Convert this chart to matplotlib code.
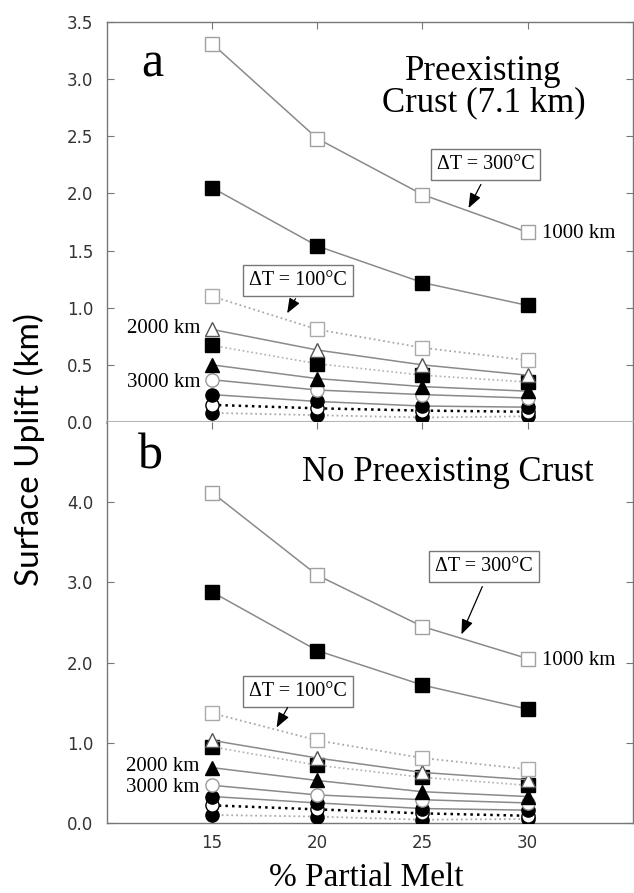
import matplotlib
matplotlib.use("Agg")
import matplotlib.pyplot as plt

melt = [15, 20, 25, 30]

# panel a: preexisting crust (7.1 km)
sq300_a = [3.31, 2.48, 1.99, 1.66]
fsq_a = [2.05, 1.54, 1.22, 1.02]
sq100_a = [1.10, 0.81, 0.65, 0.54]
otri_a = [0.81, 0.63, 0.50, 0.41]
fsqdot_a = [0.67, 0.51, 0.41, 0.35]
ftri_a = [0.50, 0.38, 0.31, 0.27]
ocirc_a = [0.37, 0.28, 0.24, 0.21]
fcirc_a = [0.24, 0.18, 0.14, 0.13]
ocircdot_a = [0.15, 0.12, 0.10, 0.09]
fcircdot_a = [0.08, 0.06, 0.04, 0.05]

# panel b: no preexisting crust
sq300_b = [4.12, 3.09, 2.45, 2.05]
fsq_b = [2.88, 2.15, 1.72, 1.42]
sq100_b = [1.37, 1.03, 0.81, 0.67]
otri_b = [1.03, 0.81, 0.63, 0.54]
fsqdot_b = [0.95, 0.72, 0.57, 0.47]
ftri_b = [0.69, 0.53, 0.39, 0.33]
ocirc_b = [0.47, 0.35, 0.29, 0.25]
fcirc_b = [0.33, 0.25, 0.18, 0.16]
ocircdot_b = [0.22, 0.17, 0.12, 0.09]
fcircdot_b = [0.10, 0.08, 0.04, 0.05]

serif = "Liberation Serif"
sans = "Lato"
ticks_font = "DejaVu Sans"
gray = "#8a8a8a"
ms = 9.5


def draw_series(ax, ys):
    (sq300, fsq, sq100, otri, fsqdot, ftri, ocirc, fcirc, ocircdot, fcircdot) = ys
    ax.plot(melt, fcircdot, ls=":", color="#aaaaaa", lw=1.3, marker="o", ms=ms,
            mfc="black", mec="black", zorder=3)
    ax.plot(melt, ocircdot, ls=":", color="black", lw=1.8, marker="o", ms=ms,
            mfc="white", mec="black", zorder=3)
    ax.plot(melt, fcirc, ls="-", color=gray, lw=1.1, marker="o", ms=ms,
            mfc="black", mec="black", zorder=3)
    ax.plot(melt, ocirc, ls="-", color=gray, lw=1.1, marker="o", ms=ms,
            mfc="white", mec="#999999", zorder=3)
    ax.plot(melt, ftri, ls="-", color=gray, lw=1.1, marker="^", ms=ms + 0.5,
            mfc="black", mec="black", zorder=3)
    ax.plot(melt, fsqdot, ls=":", color="#b0b0b0", lw=1.2, marker="s", ms=ms,
            mfc="black", mec="black", zorder=3)
    ax.plot(melt, otri, ls="-", color=gray, lw=1.1, marker="^", ms=ms + 0.5,
            mfc="white", mec="#555555", zorder=3)
    ax.plot(melt, sq100, ls=":", color="#a8a8a8", lw=1.3, marker="s", ms=ms,
            mfc="white", mec="#aaaaaa", zorder=3)
    ax.plot(melt, fsq, ls="-", color=gray, lw=1.1, marker="s", ms=ms,
            mfc="black", mec="black", zorder=3)
    ax.plot(melt, sq300, ls="-", color=gray, lw=1.1, marker="s", ms=ms,
            mfc="white", mec="#a0a0a0", zorder=3)


def dt_box(ax, label, box_xy, tip_xy, tail_xy):
    ax.text(box_xy[0], box_xy[1], label, fontfamily=serif, fontsize=14.5,
            ha="center", va="center", zorder=5,
            bbox=dict(boxstyle="square,pad=0.3", fc="white", ec="#777777", lw=1.0))
    ax.annotate("", xy=tip_xy, xytext=tail_xy, zorder=5,
                arrowprops=dict(arrowstyle="-|>,head_length=0.9,head_width=0.35",
                                color="black", lw=0.9))


def style_axes(ax):
    ax.set_xlim(10, 35)
    ax.tick_params(direction="in", length=5, color="#777777", top=True, right=True,
                   labelsize=12, labelcolor="#333333", pad=10)
    for lbl in ax.get_yticklabels() + ax.get_xticklabels():
        lbl.set_family(ticks_font)
    for s in ax.spines.values():
        s.set_color("#777777")
        s.set_linewidth(1.0)


fig = plt.figure(figsize=(6.34, 8.93), dpi=100)
ax_a = fig.add_axes([0.1688, 0.5274, 0.8292, 0.448])
ax_b = fig.add_axes([0.1688, 0.0784, 0.8292, 0.449])

draw_series(ax_a, (sq300_a, fsq_a, sq100_a, otri_a, fsqdot_a, ftri_a,
                   ocirc_a, fcirc_a, ocircdot_a, fcircdot_a))
draw_series(ax_b, (sq300_b, fsq_b, sq100_b, otri_b, fsqdot_b, ftri_b,
                   ocirc_b, fcirc_b, ocircdot_b, fcircdot_b))

ax_a.set_ylim(0, 3.5)
ax_a.set_yticks([0, 0.5, 1.0, 1.5, 2.0, 2.5, 3.0, 3.5])
ax_a.set_yticklabels(["0.0", "0.5", "1.0", "1.5", "2.0", "2.5", "3.0", "3.5"])
ax_a.set_xticks(melt)
ax_a.set_xticklabels([])
ax_b.set_ylim(0, 5)
ax_b.set_yticks([0, 1, 2, 3, 4])
ax_b.set_yticklabels(["0.0", "1.0", "2.0", "3.0", "4.0"])
ax_b.set_xticks(melt)
ax_b.set_xticklabels(["15", "20", "25", "30"])
style_axes(ax_a)
style_axes(ax_b)
ax_a.spines["bottom"].set_color("#b5b5b5")
ax_a.spines["bottom"].set_linewidth(2.2)
ax_b.spines["top"].set_visible(False)
ax_b.tick_params(axis="x", pad=8)

# panel a annotations
ax_a.text(12.15, 3.13, "a", fontfamily=serif, fontsize=36, ha="center", va="center")
ax_a.text(27.9, 2.93, "Preexisting\nCrust (7.1 km)", fontfamily=serif, fontsize=25,
          ha="center", va="center", linespacing=0.9)
ax_a.text(30.7, 1.65, "1000 km", fontfamily=serif, fontsize=15, ha="left", va="center")
ax_a.text(14.45, 0.82, "2000 km", fontfamily=serif, fontsize=15, ha="right", va="center")
ax_a.text(14.45, 0.35, "3000 km", fontfamily=serif, fontsize=15, ha="right", va="center")
dt_box(ax_a, "ΔT = 300°C", (28.0, 2.25), (27.13, 1.85), (27.84, 2.10))
dt_box(ax_a, "ΔT = 100°C", (19.07, 1.24), (18.5, 0.93), (19.03, 1.10))

# panel b annotations
ax_b.text(12.05, 4.57, "b", fontfamily=serif, fontsize=36, ha="center", va="center")
ax_b.text(26.2, 4.37, "No Preexisting Crust", fontfamily=serif, fontsize=25,
          ha="center", va="center")
ax_b.text(30.7, 2.03, "1000 km", fontfamily=serif, fontsize=15, ha="left", va="center")
ax_b.text(14.4, 0.70, "2000 km", fontfamily=serif, fontsize=15, ha="right", va="center")
ax_b.text(14.4, 0.44, "3000 km", fontfamily=serif, fontsize=15, ha="right", va="center")
dt_box(ax_b, "ΔT = 300°C", (27.94, 3.20), (26.8, 2.32), (27.9, 2.98))
dt_box(ax_b, "ΔT = 100°C", (19.07, 1.64), (18.0, 1.16), (18.65, 1.47))

fig.text(0.046, 0.497, "Surface Uplift (km)", fontfamily=sans, fontsize=24,
         rotation=90, ha="center", va="center")
fig.text(0.577, 0.017, "% Partial Melt", fontfamily=serif, fontsize=24,
         ha="center", va="center")

fig.savefig("out.png", dpi=100)
